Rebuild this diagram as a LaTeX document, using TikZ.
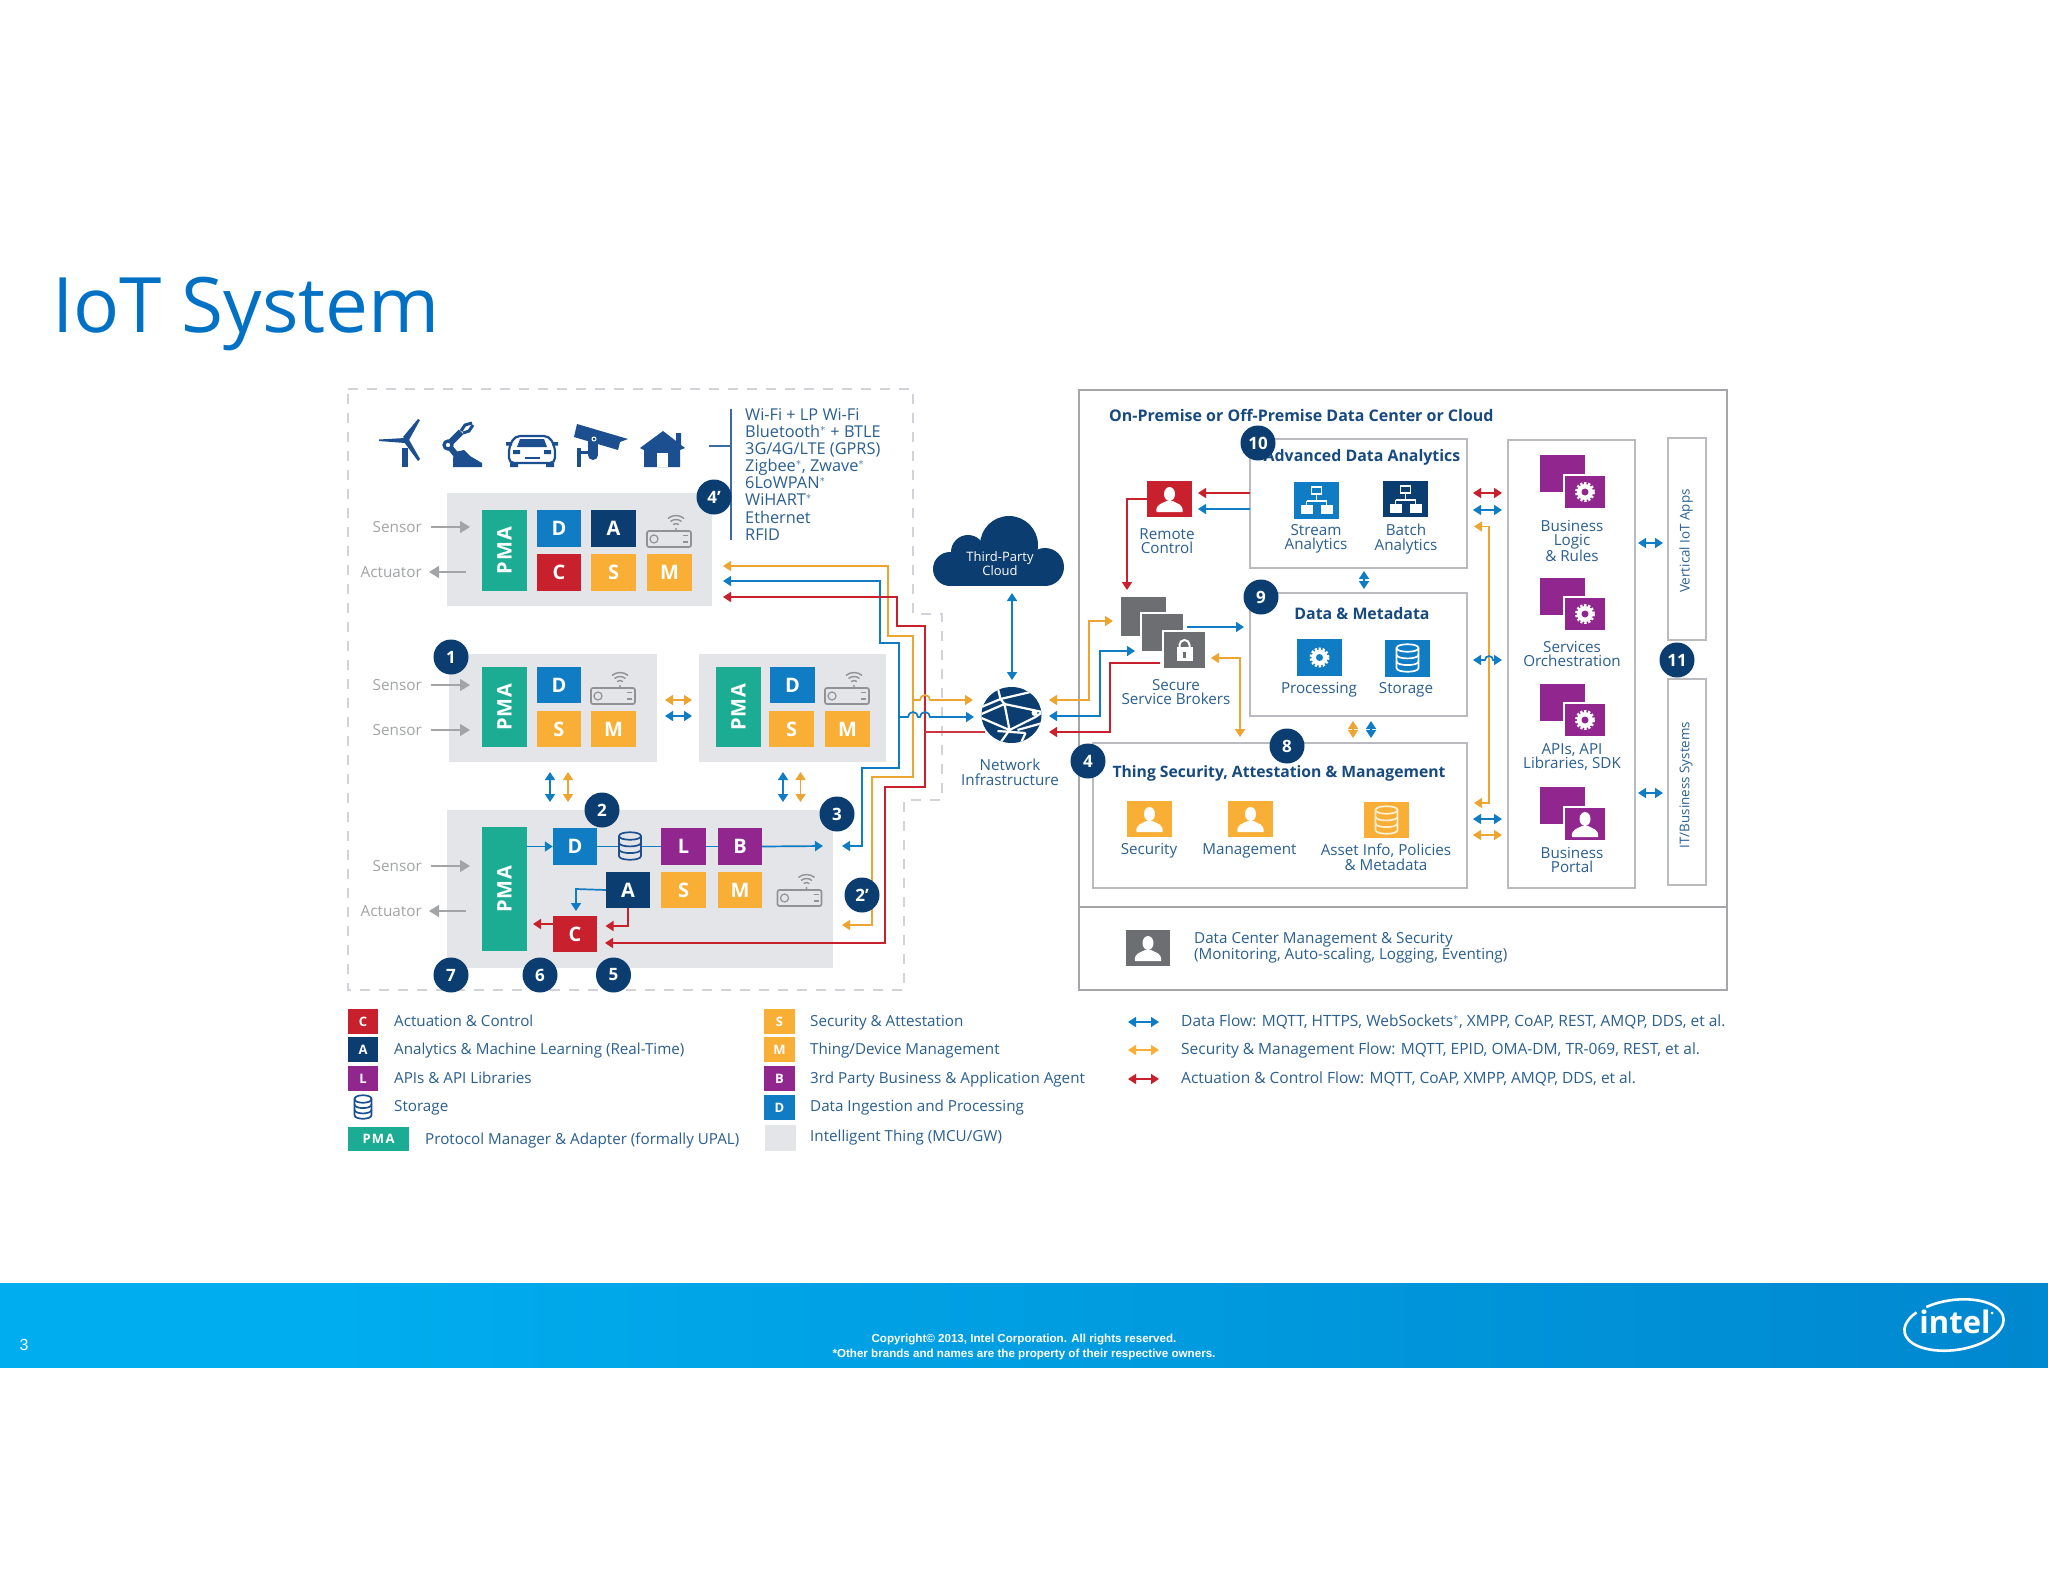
\documentclass[tikz,border=0pt]{standalone}
\usepackage{fontspec}
\usepackage{graphicx}
\setmainfont{Open Sans}
\newfontfamily\footfont{Liberation Sans}
\usetikzlibrary{arrows.meta}
\definecolor{txt}{HTML}{2A5F90}
\definecolor{txtb}{HTML}{164A80}
\definecolor{navy}{HTML}{0B3D70}
\definecolor{blueF}{HTML}{0F7CC4}
\definecolor{orangeF}{HTML}{F9AE35}
\definecolor{redF}{HTML}{C8202C}
\definecolor{purpleF}{HTML}{91268F}
\definecolor{tealF}{HTML}{1CAC93}
\definecolor{thing}{HTML}{E3E5E8}
\definecolor{brd}{HTML}{B9BBBE}
\definecolor{outerb}{HTML}{A4A6AA}
\definecolor{dashc}{HTML}{D2D2D8}
\definecolor{grayF}{HTML}{6D6E71}
\definecolor{sens}{HTML}{A2A4A6}
\definecolor{iconb}{HTML}{1C4F8F}
\definecolor{titlec}{HTML}{0071C5}
\definecolor{bandL}{HTML}{00AEEF}
\definecolor{bandR}{HTML}{0071BC}
\pgfdeclarehorizontalshading{bandsh}{100bp}{color(0bp)=(bandL);color(32bp)=(bandL);color(100bp)=(bandR)}
\tikzset{
  blk/.style={draw=none,inner sep=0pt,text=white,font=\fontsize{20}{20}\selectfont\bfseries},
  lgblk/.style={blk,font=\fontsize{13}{13}\selectfont\bfseries},
  lbl/.style={inner sep=0pt,text=txt,align=center,font=\fontsize{15.2}{14.5}\selectfont},
  lblL/.style={inner sep=0pt,text=txt,anchor=base west,font=\fontsize{15.2}{14.5}\selectfont},
  lblF/.style={lblL,font=\fontsize{15.5}{14.5}\selectfont},
  ttl/.style={inner sep=0pt,text=txtb,align=center,font=\fontsize{15.9}{15.5}\selectfont\bfseries},
  snsl/.style={inner sep=0pt,text=sens,anchor=east,font=\fontsize{15.3}{14.5}\selectfont},
  badge/.style={circle,fill=navy,inner sep=0pt,minimum size=35pt,text=white,font=\fontsize{17}{17}\selectfont\bfseries},
  box/.style={draw=brd,line width=1.8pt,fill=white,inner sep=0pt},
  flow/.style={line width=1.7pt,line join=miter},
  tipf/.tip={Triangle[length=8pt,width=10pt]},
  arr/.style={flow,-{tipf}},
  arrb/.style={flow,{tipf}-{tipf}},
  snsa/.style={line width=1.5pt,draw=sens,-{Triangle[length=10pt,width=12pt]}}
}
\newcommand\blk[7]{\node[blk,fill=#2,minimum width={(#5-#3)*1pt},minimum height={(#6-#4)*1pt}] (#1) at ({(#3+#5)/2},{(#4+#6)/2}) {#7};}
\newcommand\lgb[7]{\node[lgblk,fill=#2,minimum width={(#5-#3)*1pt},minimum height={(#6-#4)*1pt}] (#1) at ({(#3+#5)/2},{(#4+#6)/2}) {#7};}
\newcommand\boxn[6]{\node[#2,minimum width={(#5-#3)*1pt},minimum height={(#6-#4)*1pt}] (#1) at ({(#3+#5)/2},{(#4+#6)/2}) {};}
\newcommand\dbl[6]{\coordinate (#1a) at (#3,#4);\coordinate (#1b) at (#5,#6);\draw[arrb,draw=#2,color=#2] (#1a) -- (#1b);}
\newcommand\sgl[6]{\coordinate (#1a) at (#3,#4);\coordinate (#1b) at (#5,#6);\draw[arr,draw=#2,color=#2] (#1a) -- (#1b);}
\newcommand\pmatxt{\rotatebox{90}{\addfontfeatures{LetterSpace=5}PMA}}
\newcommand\person[3]{\begin{scope}[shift={(#1,#2)}]
  \fill[#3] (0,-5) ellipse (5.5 and 7);
  \fill[#3] (-13,13) .. controls (-14,5) and (-8,5) .. (-3,2) -- (3,2) .. controls (8,5) and (14,5) .. (13,13) -- cycle;
\end{scope}}
\newcommand\geari[3]{\begin{scope}[shift={(#1,#2)}]
  \draw[white,line width=3pt,dash pattern=on 2.2pt off 1.7pt] (0,0) circle (8.5);
  \fill[white] (0,0) circle (8);
  \fill[#3] (0,0) circle (3.5);
\end{scope}}
\newcommand\dbicon[6]{\begin{scope}[shift={(#1,#2)},line width=1.7pt]
  \filldraw[draw=#5,fill=#6] (-#3,-#4) -- (-#3,#4) .. controls (-#3,#4+5) and (#3,#4+5) .. (#3,#4) -- (#3,-#4) .. controls (#3,-#4-5) and (-#3,-#4-5) .. (-#3,-#4) -- cycle;
  \draw[#5] (-#3,-#4) .. controls (-#3,-#4+5) and (#3,-#4+5) .. (#3,-#4);
  \draw[#5] (-#3,-#4/3) .. controls (-#3,-#4/3+5) and (#3,-#4/3+5) .. (#3,-#4/3);
  \draw[#5] (-#3,#4/3) .. controls (-#3,#4/3+5) and (#3,#4/3+5) .. (#3,#4/3);
\end{scope}}
\newcommand\router[2]{\begin{scope}[shift={(#1,#2)}]
  \draw[draw=grayF!75,line width=1.7pt,rounded corners=2pt,fill=thing] (-22,0) rectangle (22,16);
  \draw[grayF!75,line width=1.2pt] (-15,8) circle (4);
  \draw[grayF!75,line width=1.5pt] (14,4.5) -- (19,4.5) (14,11) -- (19,11);
  \draw[grayF!75,line width=1.4pt] (7,-3) ++(230:4.5) arc (230:310:4.5);
  \draw[grayF!75,line width=1.4pt] (7,-3) ++(230:8.5) arc (230:310:8.5);
  \draw[grayF!75,line width=1.4pt] (7,-3) ++(230:12.5) arc (230:310:12.5);
  \fill[grayF!75] (7,-2) circle (1.1);
\end{scope}}
\newcommand\hier[2]{\begin{scope}[shift={(#1,#2)}]
  \draw[white,line width=1.2pt] (0,-6) -- (0,1) (-10,1) -- (10,1) (-10,1) -- (-10,5) (10,1) -- (10,5);
  \draw[white,line width=1.3pt] (-5,-13) rectangle (5,-6);
  \fill[white] (-16,5) rectangle (-4,14);
  \fill[white] (4,5) rectangle (16,14);
\end{scope}}
\newcommand\svc[3]{\fill[purpleF] (1540,#1) rectangle (1585,#1+37);
  \fill[purpleF,draw=white,line width=1.5pt] (1564,#2) rectangle (1606,#2+34);
  #3}
\begin{document}
\begin{tikzpicture}[x=1pt,y=-1pt]
\useasboundingbox (0,0) rectangle (2048,1582);
\fill[white] (0,0) rectangle (2048,1582);

% title
\node[inner sep=0pt,anchor=base west,text=titlec,font=\fontsize{76.5}{76.5}\selectfont] (title) at (52,332) {IoT System};

% dashed outline of the things zone
\draw[dashc,line width=1.8pt,dash pattern=on 10pt off 9pt] (348,389) -- (913,389) -- (913,614) -- (942,614) -- (942,800) -- (904,800) -- (904,990) -- (348,990) -- cycle;

% device icons
\begin{scope}[iconb]
 % turbine
 \fill (402,448) -- (408,448) -- (408,467) -- (402,467) -- cycle;
 \fill (405,438) -- (379,439.5) -- (379,441) -- (405,443) -- cycle;
 \fill (403,437) -- (418,419) -- (420,420) -- (409,440) -- cycle;
 \fill (404,442) -- (408,438) -- (420,459) -- (418,461) -- cycle;
 \fill (405.7,440) circle (3.2);
 % robot arm
 \fill (453,467) -- (482,467) -- (482,463) -- (470,456) -- (464,450) -- (455,452) -- (453,458) -- cycle;
 \draw[line width=6pt] (458,457) -- (448,445);
 \draw[line width=6.5pt] (448,445) -- (461,432);
 \filldraw[fill=white,line width=3.2pt] (448,445) circle (4);
 \draw[line width=3pt] (461,431) -- (465,425) -- (472,423);
 \draw[line width=3pt] (463,433) -- (469,431) -- (473,425);
 % car
 \draw[line width=2.2pt,rounded corners=5pt] (509,447) -- (515,436) -- (549,436) -- (555,447) -- (555,463) -- (509,463) -- cycle;
 \fill (517,447) -- (520,439) -- (544,439) -- (547,447) -- cycle;
 \fill (506,442) rectangle (512,445.5) (552,442) rectangle (558,445.5);
 \fill (510,463) rectangle (518,467) (546,463) rectangle (554,467);
 \fill (525,456.5) rectangle (540,458.5);
 \fill (513,450) rectangle (520,454) (544,450) rectangle (551,454);
 % camera
 \fill (577,424) -- (628,439) -- (620,442) -- (618,450) -- (574,437) -- cycle;
 \fill (588,438) rectangle (598,455);
 \fill (593,455) circle (5);
 \fill (577,448) rectangle (581,467);
 \fill (581,451) rectangle (590,454);
 \draw[white,line width=1pt] (594,439) circle (2);
 % house
 \fill (663,431) -- (676,441) -- (676,433) -- (681,433) -- (681,445) -- (685,448) -- (680,450) -- (680,467) -- (644,467) -- (644,450) -- (640,448) -- cycle;
 \fill[white] (657,453) rectangle (668,467);
\end{scope}
\coordinate (lnkA) at (709,446);
\coordinate (lnkB) at (731,446);
\coordinate (barT) at (731,409);
\coordinate (barB) at (731,540);
\draw[draw=iconb!85,line width=1.8pt] (lnkA) -- (lnkB) (barT) -- (barB);
\node[inner sep=0pt,anchor=north west,text=txt,align=left,font=\fontsize{16.3}{17.15}\selectfont] (protos) at (745,408) {Wi-Fi + LP Wi-Fi\\Bluetooth$^{*}$ + BTLE\\3G/4G/LTE (GPRS)\\Zigbee$^{*}$, Zwave$^{*}$\\6LoWPAN$^{*}$\\WiHART$^{*}$\\Ethernet\\RFID};

% thing boxes
\boxn{thA}{fill=thing,inner sep=0pt}{447}{493}{712}{606}
\boxn{thB}{fill=thing,inner sep=0pt}{449}{654}{657}{762}
\boxn{thC}{fill=thing,inner sep=0pt}{699}{654}{886}{762}
\boxn{thD}{fill=thing,inner sep=0pt}{447}{810}{833}{968}

% routed flows
\coordinate (oTop) at (723,566); \coordinate (oBot) at (842,925);
\coordinate (bTop) at (723,581); \coordinate (bBot) at (842,846);
\coordinate (rTop) at (723,597); \coordinate (rBot) at (605,943);
\draw[arrb,draw=orangeF!95!black,color=orangeF!95!black] (oTop) -- (888,566) -- (888,636) -- (913,636) -- (913,777) -- (872,777) -- (872,925) -- (oBot);
\draw[arrb,draw=blueF,color=blueF] (bTop) -- (880,581) -- (880,643) -- (899,643) -- (899,768) -- (862,768) -- (862,846) -- (bBot);
\draw[arrb,draw=redF!90,color=redF] (rTop) -- (897,597) -- (897,626) -- (925,626) -- (925,787) -- (885,787) -- (885,943) -- (rBot);

% zone to network
\coordinate (netOL) at (973,700);
\coordinate (netBL) at (974,717);
\coordinate (netRL) at (985,732);
\draw[arr,draw=orangeF!95!black,color=orangeF!95!black] (913,700) -- (920,700) arc (180:360:5) -- (netOL);
\draw[arr,draw=blueF,color=blueF] (899,717) -- (908,717) arc (180:360:5) -- (920,717) arc (180:360:5) -- (netBL);
\draw[flow,draw=redF!90] (925,732) -- (netRL);

% sensors
\node[snsl] (s1) at (422,527) {Sensor}; \coordinate (s1e) at (470,527); \draw[snsa] (431,527) -- (s1e);
\node[snsl] (a1) at (422,572) {Actuator}; \coordinate (a1e) at (429,572); \draw[snsa] (466,572) -- (a1e);
\node[snsl] (s2) at (422,685) {Sensor}; \coordinate (s2e) at (470,685); \draw[snsa] (431,685) -- (s2e);
\node[snsl] (s3) at (422,730) {Sensor}; \coordinate (s3e) at (470,730); \draw[snsa] (431,730) -- (s3e);
\node[snsl] (s4) at (422,866) {Sensor}; \coordinate (s4e) at (470,866); \draw[snsa] (431,866) -- (s4e);
\node[snsl] (a4) at (422,911) {Actuator}; \coordinate (a4e) at (429,911); \draw[snsa] (466,911) -- (a4e);

% box A
\blk{pmaA}{tealF}{482}{510}{527}{591}{\pmatxt}
\blk{dA}{blueF}{537}{510}{581}{547}{D}
\blk{aA}{navy}{591}{510}{636}{547}{A}
\blk{cA}{redF}{537}{554}{581}{591}{C}
\blk{sA}{orangeF}{591}{554}{636}{591}{S}
\blk{mA}{orangeF}{647}{554}{692}{591}{M}
\router{669}{531}
% box B
\blk{pmaB}{tealF}{482}{667}{527}{747}{\pmatxt}
\blk{dB}{blueF}{537}{667}{581}{703}{D}
\blk{sB}{orangeF}{537}{711}{581}{747}{S}
\blk{mB}{orangeF}{591}{711}{636}{747}{M}
\router{613}{688}
% box C
\blk{pmaC}{tealF}{716}{667}{761}{747}{\pmatxt}
\blk{dC}{blueF}{770}{667}{815}{703}{D}
\blk{sC}{orangeF}{769}{711}{814}{747}{S}
\blk{mC}{orangeF}{825}{711}{870}{747}{M}
\router{847}{688}
% box B-C arrows
\dbl{bcO}{orangeF!95!black}{665}{700}{692}{700}
\dbl{bcB}{blueF}{665}{716}{692}{716}
\dbl{bdB}{blueF}{550}{772}{550}{802}
\dbl{bdO}{orangeF!95!black}{568}{772}{568}{802}
\dbl{cdB}{blueF}{783}{772}{783}{802}
\dbl{cdO}{orangeF!95!black}{800.5}{772}{800.5}{802}

% box D
\blk{pmaD}{tealF}{482}{827}{527}{951}{\pmatxt}
\blk{dD}{blueF}{553}{828}{597}{865}{D}
\blk{lD}{purpleF}{661}{828}{706}{865}{L}
\blk{bD}{purpleF}{718}{828}{762}{865}{B}
\blk{aD}{navy}{606}{872}{650}{908}{A}
\blk{sD}{orangeF}{661}{872}{706}{908}{S}
\blk{mD}{orangeF}{718}{872}{762}{908}{M}
\blk{cD}{redF}{553}{916}{597}{952}{C}
\router{799.5}{890}
\coordinate (outB) at (823,846);
\draw[arr,draw=blueF,color=blueF] (pmaD.east |- dD.west) -- (dD.west);
\draw[flow,draw=blueF] (dD.east) -- (lD.west) (lD.east) -- (bD.west);
\draw[arr,draw=blueF,color=blueF] (bD.east) -- (outB);
\dbicon{630}{846}{11}{10}{iconb}{thing}
\coordinate (aTurn) at (576,889);
\coordinate (cTop) at (576,911);
\draw[arr,draw=blueF,color=blueF] (aD.west) -- (aTurn) -- (cTop);
\coordinate (cIn) at (605.5,926);
\draw[arr,draw=redF,color=redF] (aD.south) -- (aD.south |- cIn) -- (cIn);
\coordinate (cOut) at (533,924);
\draw[arr,draw=redF,color=redF] (cD.west |- cOut) -- (cOut);

% data centre
\boxn{outer}{draw=outerb,line width=1.8pt,inner sep=0pt}{1079}{390}{1727}{990}
\coordinate (divL) at (outer.west |- 0,907);
\coordinate (divR) at (outer.east |- 0,907);
\draw[draw=outerb,line width=1.8pt] (divL) -- (divR);
\node[ttl,anchor=west,font=\fontsize{16}{16}\selectfont\bfseries] (dcT) at (1109,415) {On-Premise or Off-Premise Data Center or Cloud};

\boxn{adv}{box}{1250}{439}{1467}{568}
\boxn{dat}{box}{1250}{593}{1467}{716}
\boxn{sec}{box}{1093}{743}{1467}{888}
\boxn{srv}{box}{1508}{440}{1635}{888}
\boxn{vrt}{box}{1668}{438}{1706}{640}
\boxn{its}{box}{1668}{679}{1706}{885}

\node[ttl] (advT) at (1362,457) {Advanced Data Analytics};
\node[ttl] (datT) at (1362,614) {Data \& Metadata};
\node[ttl,font=\fontsize{15.7}{15.5}\selectfont\bfseries] (secT) at (1279,773) {Thing Security, Attestation \& Management};

% remote control
\blk{rem}{redF}{1147}{481}{1192}{517}{}
\person{1169.5}{499}{white}
\node[lbl] (remT) at (1167,541) {Remote\\Control};
% stream, batch
\blk{stm}{blueF}{1294}{482}{1339}{519}{}
\hier{1316.5}{500}
\blk{bat}{navy}{1383}{481}{1428}{517}{}
\hier{1405.5}{499}
\node[lbl] (stmT) at (1316,539) {Stream\\Analytics};
\node[lbl] (batT) at (1406,539) {Batch\\Analytics};
% processing, storage
\blk{pro}{blueF}{1297}{639}{1342}{676}{}
\geari{1319.5}{657.5}{blueF}
\blk{sto}{blueF}{1385}{640}{1430}{677}{}
\dbicon{1407.5}{658}{11}{10}{white}{blueF}
\node[lbl] (proT) at (1319,690) {Processing};
\node[lbl] (stoT) at (1406,690) {Storage};
% security row
\blk{isec}{orangeF}{1127}{801}{1172}{837}{}
\person{1149.5}{819}{white}
\blk{iman}{orangeF}{1228}{801}{1273}{837}{}
\person{1250.5}{819}{white}
\blk{iass}{orangeF}{1364}{802}{1409}{838}{}
\dbicon{1386.5}{820}{11}{10}{white!80!orangeF}{orangeF}
\node[lbl] (isecT) at (1149,851) {Security};
\node[lbl] (imanT) at (1249.5,851) {Management};
\node[lbl] (iassT) at (1386,857) {Asset Info, Policies\\\& Metadata};
% data centre management
\blk{idc}{grayF}{1126}{930}{1170}{966}{}
\person{1148}{948}{white}
\node[lbl,align=left,anchor=west] (idcT) at (1194,947.5) {Data Center Management \& Security\\(Monitoring, Auto-scaling, Logging, Eventing)};

% brokers
\blk{br1}{grayF}{1121}{597}{1166}{636}{}
\node[blk,fill=grayF,draw=white,line width=1.2pt,minimum width=43pt,minimum height=39pt] (br2) at (1162.5,632.5) {};
\node[blk,fill=grayF,draw=white,line width=1.2pt,minimum width=43pt,minimum height=38pt] (br3) at (1184.5,650) {};
\begin{scope}[shift={(1184.5,650)}]
 \draw[white,line width=2pt] (-5,-3) -- (-5,-5) arc (180:360:5) -- (5,-3);
 \fill[white] (-8,-3) rectangle (8,11);
 \fill[grayF] (-1.4,2) rectangle (1.4,8);
\end{scope}
\node[lbl] (brT) at (1176,692) {Secure\\Service Brokers};

% services column
\svc{455}{475}{\geari{1585}{492}{purpleF}}
\svc{578}{597}{\geari{1585}{614}{purpleF}}
\svc{684}{703}{\geari{1585}{720}{purpleF}}
\svc{787}{807}{\person{1585}{824}{white}}
\node[lbl] (sv1T) at (1572,541) {Business\\Logic\\\& Rules};
\node[lbl] (sv2T) at (1572,654) {Services\\Orchestration};
\node[lbl] (sv3T) at (1572,757) {APIs, API\\Libraries, SDK};
\node[lbl] (sv4T) at (1572,860) {Business\\Portal};
\node[lbl,rotate=90,font=\fontsize{13.4}{14}\selectfont] (vrtT) at (1686,541) {Vertical IoT Apps};
\node[lbl,rotate=90,font=\fontsize{13.4}{14}\selectfont] (itsT) at (1686,785) {IT/Business Systems};

% cloud
\begin{scope}[navy]
 \fill (1009,545) circle (29);
 \fill (968,552) circle (17);
 \fill (950,569) circle (17);
 \fill (1045,567) circle (19);
 \fill (950,552) rectangle (1045,586);
\end{scope}
\node[inner sep=0pt,text=white,align=center,font=\fontsize{13}{12.5}\selectfont] (cloud) at (1000,564) {Third-Party\\Cloud};
\coordinate (clB) at (1012,593);
\coordinate (netT) at (1012,680);
\draw[arrb,draw=blueF,color=blueF] (clB) -- (netT);

% globe
\begin{scope}[shift={(1011.5,715)}]
 \fill[navy] (0,0) ellipse (30 and 28);
 \begin{scope}
  \clip (0,0) ellipse (30 and 28);
  \draw[white,line width=2.2pt] (-30,-8) -- (-11,-16) -- (19,-23)
    (-14,-28) -- (-11,-16) -- (-7,-11) -- (31,-3)
    (-30,-1) -- (-7,-11) -- (-2,15)
    (-30,3) -- (-2,15) -- (24,2) -- (31,-3)
    (6,15) -- (31,8)
    (-14,16) -- (14,18)
    (-2,15) -- (-12,29) (14,18) -- (9,29);
 \end{scope}
 \fill[white] (23,-2) circle (3);
\end{scope}
\node[lbl] (netT2) at (1010,772.5) {Network\\Infrastructure};

% flows between network and brokers
\coordinate (netOR) at (1049,700); \coordinate (brOi) at (1113,621);
\coordinate (netBR) at (1049,716); \coordinate (brBi) at (1135,651);
\coordinate (netRR) at (1049,732); \coordinate (brRi) at (1160,663);
\draw[arrb,draw=orangeF!95!black,color=orangeF!95!black] (netOR) -- (1089,700) -- (1089,621) -- (brOi);
\draw[arrb,draw=blueF,color=blueF] (netBR) -- (1100,716) -- (1100,651) -- (brBi);
\draw[arr,draw=redF!90,color=redF] (brRi) -- (1110,663) -- (1110,732) -- (netRR);
\coordinate (remRt) at (1127,590);
\draw[arr,draw=redF!90,color=redF] (rem.west) -- (1127,499) -- (remRt);
\sgl{rr}{redF}{1250}{493}{1198}{493}
\sgl{rb}{blueF}{1250}{509}{1198}{509}
\sgl{bd}{blueF}{1187}{627}{1244}{627}
\coordinate (brO) at (1211,658); \coordinate (secO) at (1240,737);
\draw[arrb,draw=orangeF!95!black,color=orangeF!95!black] (brO) -- (1240,658) -- (secO);
\dbl{adB}{blueF}{1364}{571}{1364}{589}
\dbl{dsO}{orangeF!95!black}{1353}{721}{1353}{738}
\dbl{dsB}{blueF}{1371}{721}{1371}{738}
\dbl{c1}{redF}{1473}{493}{1502}{493}
\dbl{c2}{blueF}{1473}{510}{1502}{510}
\coordinate (oU) at (1474,526.5); \coordinate (oD) at (1474,803);
\draw[arrb,draw=orangeF!95!black,color=orangeF!95!black] (oU) -- (1489,526.5) -- (1489,803) -- (oD);
\coordinate (c3a) at (1473,660); \coordinate (c3b) at (1502,660);
\draw[arrb,draw=blueF,color=blueF] (c3a) -- (1485,660) arc (180:360:4) -- (c3b);
\dbl{c4}{blueF}{1473}{819}{1502}{819}
\dbl{c5}{orangeF!95!black}{1473}{835}{1502}{835}
\dbl{c6}{blueF}{1638}{543}{1663}{543}
\dbl{c7}{blueF}{1638}{793}{1663}{793}

% badges
\node[badge] (b1) at (451,657) {1};
\node[badge] (b2) at (602,810) {2};
\node[badge] (b2p) at (862,895) {2'};
\node[badge] (b3) at (837,814) {3};
\node[badge] (b4p) at (714,497) {4'};
\node[badge] (b4) at (1088,761) {4};
\node[badge] (b5) at (613.5,975) {5};
\node[badge] (b6) at (540,975) {6};
\node[badge] (b7) at (451,975) {7};
\node[badge] (b8) at (1287,746) {8};
\node[badge] (b9) at (1261,597) {9};
\node[badge] (b10) at (1258,443) {10};
\node[badge] (b11) at (1677,660) {11};

% legend
\lgb{lgC}{redF}{348}{1009}{378}{1034}{C}
\lgb{lgA}{navy}{348}{1037}{378}{1062}{A}
\lgb{lgL}{purpleF}{348}{1066}{378}{1091}{L}
\dbicon{363}{1107}{8.5}{8}{iconb}{white}
\lgb{lgP}{tealF}{348}{1127}{409}{1151}{\addfontfeatures{LetterSpace=10}PMA}
\lgb{lgS}{orangeF}{764}{1009}{795}{1034}{S}
\lgb{lgM}{orangeF}{764}{1037}{795}{1062}{M}
\lgb{lgB}{purpleF}{764}{1066}{795}{1091}{B}
\lgb{lgD}{blueF}{764}{1095}{795}{1120}{D}
\lgb{lgT}{thing}{765}{1125}{796}{1151}{}
\node[lblL] (t1) at (394,1026) {Actuation \& Control};
\node[lblL] (t2) at (394,1054) {Analytics \& Machine Learning (Real-Time)};
\node[lblL] (t3) at (394,1083) {APIs \& API Libraries};
\node[lblL] (t4) at (394,1111) {Storage};
\node[lblL] (t5) at (425,1144) {Protocol Manager \& Adapter (formally UPAL)};
\node[lblL] (t6) at (810,1026) {Security \& Attestation};
\node[lblL] (t7) at (810,1054) {Thing/Device Management};
\node[lblL] (t8) at (810,1083) {3rd Party Business \& Application Agent};
\node[lblL] (t9) at (810,1111) {Data Ingestion and Processing};
\node[lblL] (t10) at (810,1141) {Intelligent Thing (MCU/GW)};
\dbl{lg1}{blueF}{1128}{1022}{1159}{1022}
\dbl{lg2}{orangeF}{1128}{1050}{1159}{1050}
\dbl{lg3}{redF}{1128}{1079}{1159}{1079}
\node[lblF] (t11) at (1181,1026) {Data Flow: MQTT, HTTPS, WebSockets$^{*}$, XMPP, CoAP, REST, AMQP, DDS, et al.};
\node[lblF] (t12) at (1181,1054) {Security \& Management Flow: MQTT, EPID, OMA-DM, TR-069, REST, et al.};
\node[lblF] (t13) at (1181,1083) {Actuation \& Control Flow: MQTT, CoAP, XMPP, AMQP, DDS, et al.};

% footer band
\path[shading=bandsh] (0,1283) rectangle (2048,1367);
\node[inner sep=0pt,text=white,font=\footfont\fontsize{16}{16}\selectfont] (pg) at (24,1345) {3};
\node[inner sep=0pt,text=white,align=center,font=\footfont\fontsize{11.6}{15}\selectfont\bfseries] (copy) at (1024,1347) {Copyright© 2013, Intel Corporation. All rights reserved.\\*Other brands and names are the property of their respective owners.};
\node[inner sep=0pt,text=white,font=\fontsize{31}{31}\selectfont\bfseries] (logo) at (1955,1322) {intel};
\begin{scope}[shift={(1954,1325)},rotate=8]
 \draw[white,line width=2.6pt] (0,0) ++(240:50 and 25) arc (240:585:50 and 25);
\end{scope}
\fill[white] (1992,1313) circle (1.5);
\end{tikzpicture}
\end{document}
